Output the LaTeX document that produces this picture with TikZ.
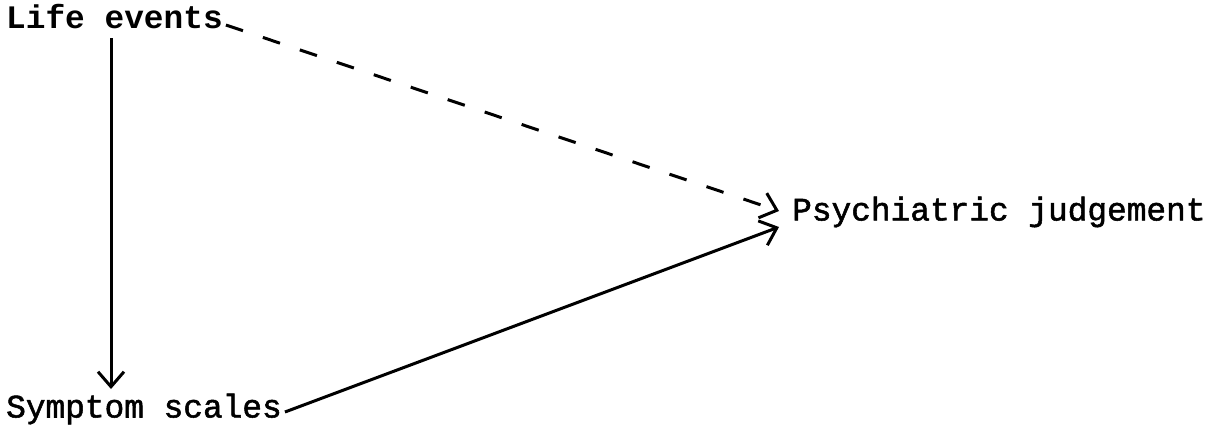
\documentclass[tikz,border=0pt]{standalone}
\usepackage{fontspec}
\setmonofont{Liberation Mono}
\newfontfamily\medtt[FakeBold=1.6]{Liberation Mono}
\usetikzlibrary{arrows.meta}
\tikzset{
  lbl/.style={font=\medtt\fontsize{32.8}{36}\selectfont,inner sep=0pt,anchor=west},
  arr/.style={line width=3pt,-{Straight Barb[length=15pt,width=26pt,line width=3pt]}}
}
\begin{document}
\begin{tikzpicture}[x=1pt,y=-1pt]
\useasboundingbox (0,0) rectangle (1229,432);
\node[lbl,font=\ttfamily\bfseries\fontsize{32.8}{36}\selectfont] (life) at (6,17){Life events};
\node[lbl] (sym) at (6,409){Symptom scales};
\node[lbl] (psy) at (792,212){Psychiatric judgement};
\coordinate (top) at (111,38);
\coordinate (bot) at (111,389);
\draw[arr] (top) -- (bot);
\draw[arr,dash pattern=on 18pt off 21pt] ([xshift=3pt,yshift=-8pt]life.east) -- ([xshift=-13pt,yshift=1pt]psy.west);
\draw[arr] ([xshift=3pt,yshift=-3pt]sym.east) -- ([xshift=-13pt,yshift=-15pt]psy.west);
\end{tikzpicture}
\end{document}
